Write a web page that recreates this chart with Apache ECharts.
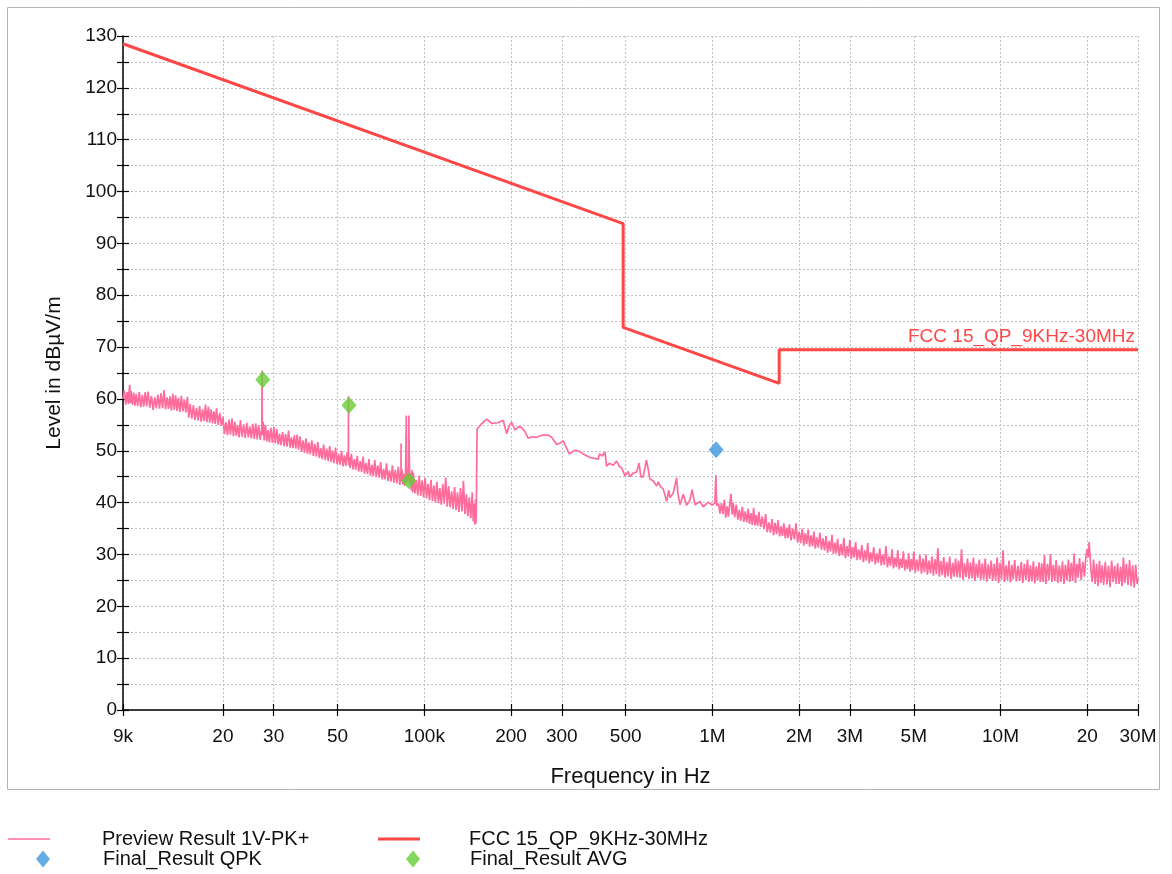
<!DOCTYPE html>
<html><head><meta charset="utf-8">
<script src="https://cdn.jsdelivr.net/npm/echarts@6/dist/echarts.min.js"></script>
<style>html,body{margin:0;padding:0;background:#fff}#c{width:1172px;height:874px}</style>
</head><body><div id="c"></div>
<script>
// ---- data ----
const xTickValues = [9000, 20000, 30000, 50000, 100000, 200000, 300000, 500000, 1e6, 2e6, 3e6, 5e6, 1e7, 2e7, 3e7];
const xTickLabels = ['9k', '20', '30', '50', '100k', '200', '300', '500', '1M', '2M', '3M', '5M', '10M', '20', '30M'];

// Preview Result 1V-PK+ : [kHz, dBµV/m], 9 kHz .. 150 kHz
const lowBandKHz = [
[9.0,60.0],[9.1,61.6],[9.2,58.9],[9.3,61.3],[9.4,59.0],[9.45,61.4],[9.5,62.7],[9.55,59.2],[9.6,61.5],[9.7,58.9],
[9.8,61.2],[9.9,58.7],[10.0,61.0],[10.12,58.6],[10.25,61.3],[10.37,58.4],[10.5,60.8],[10.62,58.5],[10.75,61.3],[10.87,58.6],
[11.0,61.4],[11.15,58.3],[11.3,60.6],[11.45,57.9],[11.6,60.3],[11.75,58.2],[11.9,60.8],[12.05,58.1],[12.2,61.1],[12.35,58.2],
[12.5,61.7],[12.65,58.0],[12.8,60.3],[12.95,58.1],[13.1,60.5],[13.25,57.8],[13.4,61.0],[13.55,57.9],[13.7,60.7],[13.85,57.7],
[14.0,60.2],[14.17,57.5],[14.35,60.6],[14.52,57.6],[14.7,59.8],[14.87,57.4],[15.05,60.4],[15.22,56.4],[15.4,59.0],[15.6,56.2],
[15.8,58.8],[16.0,55.9],[16.2,58.3],[16.4,55.8],[16.6,58.6],[16.8,55.6],[17.0,58.0],[17.2,55.7],[17.4,58.9],[17.6,55.5],
[17.8,58.5],[18.0,55.4],[18.2,58.0],[18.4,55.3],[18.6,57.6],[18.8,55.2],[19.0,58.2],[19.25,55.0],[19.5,57.3],[19.75,54.8],
[20.0,56.6],[20.25,53.2],[20.5,55.5],[20.75,53.0],[21.0,56.0],[21.25,53.1],[21.5,56.2],[21.75,52.8],[22.0,55.6],[22.25,52.9],
[22.5,55.0],[22.75,52.6],[23.0,55.9],[23.3,52.7],[23.6,55.1],[23.9,52.5],[24.2,55.4],[24.5,52.6],[24.8,54.7],[25.1,52.4],
[25.4,55.2],[25.7,52.3],[26.0,55.3],[26.3,52.2],[26.6,54.9],[26.95,52.1],[27.3,54.6],[27.35,65.5],[27.4,53.0],[27.6,55.6],
[27.8,52.0],[28.1,55.0],[28.4,51.8],[28.7,54.0],[29.0,51.6],[29.35,54.4],[29.7,51.5],[30.05,54.6],[30.4,51.4],[30.75,54.2],
[31.1,51.2],[31.45,53.3],[31.8,51.1],[32.2,53.6],[32.6,50.9],[33.0,53.2],[33.4,50.8],[33.8,53.9],[34.2,50.6],[34.6,52.6],
[35.0,50.5],[35.4,53.0],[35.8,50.4],[36.2,53.1],[36.6,50.2],[37.05,52.8],[37.5,49.8],[37.95,52.0],[38.4,49.6],[38.85,52.4],
[39.3,49.4],[39.75,51.6],[40.2,49.3],[40.7,52.0],[41.2,49.0],[41.7,51.3],[42.2,48.9],[42.7,51.7],[43.2,48.6],[43.7,50.5],
[44.2,48.4],[44.75,51.2],[45.3,48.2],[45.85,50.4],[46.4,48.0],[46.95,50.9],[47.5,47.8],[48.05,50.1],[48.6,47.6],[49.2,50.6],
[49.8,47.4],[50.4,49.4],[51.0,47.3],[51.6,50.0],[52.2,47.0],[52.8,49.1],[53.4,47.1],[53.95,49.7],[54.5,48.0],[54.55,60.5],
[54.6,47.2],[54.9,48.8],[55.2,46.7],[55.85,49.4],[56.5,46.4],[57.15,48.4],[57.8,46.3],[58.5,49.0],[59.2,46.0],[59.9,48.0],
[60.6,45.9],[61.3,48.9],[62.0,45.6],[62.75,47.6],[63.5,45.5],[64.25,48.4],[65.0,45.2],[65.75,47.3],[66.5,45.1],[67.3,48.2],
[68.1,44.9],[68.9,47.2],[69.7,44.8],[70.55,47.8],[71.4,44.5],[72.25,46.5],[73.1,44.5],[73.95,47.6],[74.8,44.2],[75.7,46.2],
[76.6,44.1],[77.5,47.2],[78.4,43.8],[79.35,46.3],[80.3,43.7],[81.25,46.9],[82.2,43.4],[83.0,45.9],[83.05,51.4],[83.1,44.1],
[83.7,46.4],[84.3,43.5],[84.9,45.6],[85.6,43.2],[86.1,45.2],[86.5,45.0],[86.6,56.8],[86.8,46.5],[87.5,43.9],[88.2,47.0],
[88.4,56.8],[88.6,50.0],[89.1,43.6],[89.6,45.7],[90.1,42.4],[90.6,46.3],[91.1,42.0],[91.6,45.8],[92.7,41.8],[93.8,44.4],
[94.9,41.4],[96.0,45.2],[97.15,41.3],[98.3,44.3],[99.45,41.0],[100.6,44.8],[101.8,40.8],[103.0,43.6],[104.25,40.4],[105.5,44.4],
[106.75,40.3],[108.0,43.3],[109.3,40.0],[110.6,44.0],[111.9,39.9],[113.2,42.8],[114.55,39.6],[115.9,43.6],[117.3,39.8],[118.7,44.9],
[120.1,39.2],[121.5,43.2],[122.95,39.1],[124.4,42.2],[125.9,38.8],[127.4,43.0],[128.9,38.6],[130.4,42.0],[131.95,38.2],[133.5,42.8],
[135.1,38.3],[136.7,44.2],[138.35,37.8],[140.0,41.6],[141.65,37.4],[143.3,41.0],[145.0,37.0],[146.7,42.0],[147.85,36.4],[149.0,39.8],
[149.75,35.8],[150.5,40.6],[151.0,36.0],[151.5,38.0]
];
// 150 kHz .. 1.05 MHz
const midBandKHz = [
[152.5,54.2],[158,55.2],[164.6,56.1],[171.3,55.3],[180,55.4],[187.9,55.9],[193.1,53.3],[197,54.8],[201,55.5],[206.3,54.0],
[212,54.6],[217.7,54.5],[224,53.6],[229.6,52.4],[235.9,52.7],[245.5,52.6],[255.5,53.0],[269.3,53.0],[276.7,52.6],[288,51.2],
[296,51.5],[303.6,51.9],[318.5,49.4],[333.4,50.1],[345,49.9],[356.2,49.4],[375.8,48.7],[401.6,48.4],[405,49.4],[415,49.0],
[423.6,49.8],[429.4,47.0],[438.5,47.6],[452.7,47.2],[465,48.0],[475,47.0],[484,46.7],[497,45.2],[510,46.0],[517,45.0],
[531,45.7],[546,45.9],[556,47.6],[565,44.9],[575,45.0],[590,48.2],[599,46.3],[607,44.5],[623,44.2],[640,43.2],
[649,44.0],[660,43.1],[675,42.6],[694,40.2],[705,42.4],[712,41.0],[731,41.8],[751,44.8],[760,41.5],[772,39.6],
[792,41.6],[814,39.5],[836,40.5],[850,42.5],[870,39.6],[905,40.2],[929,39.2],[967,40.1],[1000,39.5],[1020,40.0],
[1028,45.3],[1035,39.4]
];
// 1.05 MHz .. 30 MHz
const highBandMHz = [
[1.05,39.8],[1.062,37.9],[1.075,39.9],[1.087,37.8],[1.1,40.6],[1.112,37.1],[1.125,39.3],[1.137,37.3],[1.15,40.0],[1.16,41.7],
[1.17,37.7],[1.18,40.0],[1.195,37.2],[1.21,39.6],[1.225,36.7],[1.24,38.6],[1.255,36.5],[1.27,39.2],[1.285,36.3],[1.3,38.3],
[1.315,36.2],[1.33,38.8],[1.345,35.9],[1.36,38.0],[1.375,35.7],[1.39,39.0],[1.405,35.6],[1.42,37.6],[1.435,35.5],[1.45,38.2],
[1.47,35.3],[1.49,37.3],[1.51,34.9],[1.53,37.8],[1.55,34.3],[1.57,36.2],[1.59,34.2],[1.61,36.8],[1.63,33.7],[1.65,36.1],
[1.67,33.9],[1.69,36.6],[1.71,33.5],[1.73,35.4],[1.75,33.6],[1.77,36.0],[1.79,33.1],[1.81,35.2],[1.83,33.2],[1.85,35.8],
[1.875,32.7],[1.9,35.0],[1.925,32.9],[1.95,36.0],[1.975,32.3],[2.0,34.4],[2.025,32.2],[2.05,35.0],[2.075,31.7],[2.1,34.1],
[2.125,32.0],[2.15,34.8],[2.175,31.5],[2.2,33.7],[2.225,31.6],[2.25,34.4],[2.275,31.1],[2.3,33.3],[2.33,31.3],[2.36,34.2],
[2.39,30.9],[2.42,33.1],[2.45,30.8],[2.48,33.6],[2.51,30.3],[2.54,32.6],[2.57,30.6],[2.6,33.8],[2.63,30.1],[2.66,32.3],
[2.69,30.2],[2.72,33.0],[2.755,29.7],[2.79,32.0],[2.825,29.8],[2.86,33.2],[2.895,29.3],[2.93,31.6],[2.965,29.6],[3.0,32.8],
[3.035,29.1],[3.07,31.4],[3.105,29.4],[3.14,32.4],[3.18,28.9],[3.22,31.0],[3.26,29.0],[3.3,31.8],[3.34,28.5],[3.38,30.8],
[3.42,28.8],[3.46,32.2],[3.5,28.3],[3.54,30.4],[3.585,28.6],[3.63,31.4],[3.675,28.1],[3.72,30.2],[3.765,28.4],[3.81,31.2],
[3.855,27.9],[3.9,30.0],[3.95,28.0],[4.0,31.6],[4.05,27.5],[4.1,29.6],[4.15,27.8],[4.2,31.0],[4.25,27.3],[4.3,29.4],
[4.35,27.6],[4.4,30.8],[4.45,27.1],[4.5,29.2],[4.55,27.4],[4.6,30.6],[4.65,26.9],[4.7,29.0],[4.75,27.2],[4.8,30.2],
[4.85,26.7],[4.9,29.1],[4.95,27.0],[5.0,30.6],[5.06,26.5],[5.12,29.0],[5.185,26.8],[5.25,29.9],[5.315,26.3],[5.38,29.2],
[5.445,26.6],[5.51,30.0],[5.575,26.1],[5.64,28.8],[5.71,26.4],[5.78,29.6],[5.85,25.9],[5.92,29.1],[5.99,26.2],[6.06,31.2],
[6.13,25.7],[6.2,28.7],[6.275,26.0],[6.35,29.5],[6.425,25.5],[6.5,28.6],[6.58,25.8],[6.66,29.6],[6.74,25.3],[6.82,28.4],
[6.9,25.7],[6.98,29.2],[7.065,25.6],[7.15,28.8],[7.235,25.5],[7.32,31.0],[7.41,25.1],[7.5,28.3],[7.59,25.6],[7.68,29.2],
[7.77,25.3],[7.86,28.5],[7.955,25.4],[8.05,29.4],[8.145,24.9],[8.24,28.2],[8.34,25.5],[8.44,29.0],[8.54,25.1],[8.64,28.3],
[8.745,25.2],[8.85,29.2],[8.955,24.7],[9.06,28.1],[9.17,25.3],[9.28,28.8],[9.39,24.9],[9.5,28.2],[9.615,25.0],[9.73,29.4],
[9.845,24.5],[9.96,28.4],[10.08,25.1],[10.2,30.8],[10.32,24.7],[10.45,27.9],[10.57,25.0],[10.7,28.8],[10.82,24.6],[10.95,28.0],
[11.07,25.2],[11.2,28.9],[11.35,24.8],[11.5,27.8],[11.65,24.9],[11.8,28.6],[11.95,24.5],[12.1,28.2],[12.25,25.1],[12.4,29.0],
[12.55,24.7],[12.7,27.9],[12.85,24.8],[13.0,28.7],[13.15,24.4],[13.3,27.7],[13.45,25.0],[13.6,28.5],[13.75,24.7],[13.9,28.3],
[14.05,24.7],[14.2,29.9],[14.37,24.3],[14.55,28.2],[14.72,25.1],[14.9,30.1],[15.07,24.7],[15.25,28.0],[15.42,24.9],[15.6,28.9],
[15.8,24.5],[16.0,27.9],[16.2,24.7],[16.4,28.7],[16.6,24.3],[16.8,28.0],[17.0,25.0],[17.2,29.0],[17.4,24.7],[17.6,28.4],
[17.8,24.9],[18.0,30.2],[18.2,24.5],[18.4,28.2],[18.6,25.5],[18.8,29.3],[19.05,25.1],[19.3,28.6],[19.55,25.7],[19.8,29.8],
[20.0,31.0],[20.15,29.4],[20.3,32.4],[20.6,27.0],[20.8,24.7],[21.05,29.0],[21.3,24.3],[21.55,28.2],[21.8,23.9],[22.05,28.8],
[22.3,24.5],[22.55,27.9],[22.8,24.1],[23.1,28.6],[23.4,24.2],[23.7,27.8],[24.0,23.7],[24.3,28.8],[24.6,24.7],[24.9,27.8],
[25.2,24.3],[25.5,28.3],[25.8,24.3],[26.1,27.6],[26.4,23.9],[26.7,29.4],[27.0,24.5],[27.35,28.2],[27.7,24.1],[28.05,28.9],
[28.4,23.9],[28.75,27.9],[29.1,23.6],[29.45,28.0],[29.8,24.3],[30.0,25.5]
];

// FCC 15_QP_9KHz-30MHz limit (break points)
const limitFreqHz = [9000, 490000, 490000, 1705000, 1705000, 30000000];
const limitLevel = [128.5, 93.8, 73.8, 63.0, 69.5, 69.5];

// Final results
const qpkFreqHz = [1030000];
const qpkLevel = [50.2];
const avgFreqHz = [27500, 54800, 88400];
const avgLevel = [63.7, 58.8, 44.2];

const names = ['Preview Result 1V-PK+', 'FCC 15_QP_9KHz-30MHz', 'Final_Result QPK', 'Final_Result AVG'];

// ---- build ----
const previewData = []
  .concat(lowBandKHz.map(p => [p[0] * 1e3, p[1]]))
  .concat(midBandKHz.map(p => [p[0] * 1e3, p[1]]))
  .concat(highBandMHz.map(p => [p[0] * 1e6, p[1]]));
const limitData = limitFreqHz.map((f, i) => [f, limitLevel[i]]);
const qpkData = qpkFreqHz.map((f, i) => [f, qpkLevel[i]]);
const avgData = avgFreqHz.map((f, i) => [f, avgLevel[i]]);

function xLabel(v) {
  let best = 0, bd = Infinity;
  xTickValues.forEach((t, i) => { const d = Math.abs(Math.log(v / t)); if (d < bd) { bd = d; best = i; } });
  return xTickLabels[best];
}

const FONT = "'Liberation Sans', Arial, Helvetica, sans-serif";
const TXT = '#111';
const PINK = '#ff6b9b', RED = '#ff4747', BLUE = '#3d97dc', GREEN = '#66cc33';
const gridLine = { color: '#c2c2c2', type: [2, 2], width: 1 };
const legendText = pad => ({ fontSize: 20, color: TXT, fontFamily: FONT, padding: [0, 0, 0, pad] });

const chart = echarts.init(document.getElementById('c'), null, { renderer: 'canvas' });
chart.setOption({
  animation: false,
  backgroundColor: '#fff',
  textStyle: { fontFamily: FONT },
  graphic: [{
    type: 'rect', silent: true, z: -10,
    shape: { x: 7.5, y: 7.5, width: 1152, height: 782 },
    style: { fill: null, stroke: '#b4b4b4', lineWidth: 1 }
  }],
  grid: { left: 123, right: 34, top: 36, bottom: 164, containLabel: false },
  xAxis: [{
    type: 'log', logBase: 10, min: 9000, max: 3e7, position: 'bottom',
    axisLine: { show: true, onZero: false, lineStyle: { color: '#000', width: 1.5 } },
    axisTick: { show: true, customValues: xTickValues, length: 6, lineStyle: { color: '#000', width: 1.2 } },
    axisLabel: { customValues: xTickValues, formatter: xLabel, fontSize: 19, color: TXT, fontFamily: FONT, margin: 17 },
    splitLine: { show: true, lineStyle: gridLine },
    minorTick: { show: false }, minorSplitLine: { show: false },
    name: 'Frequency in Hz', nameLocation: 'middle', nameGap: 56,
    nameTextStyle: { fontSize: 22, color: TXT, fontFamily: FONT }
  }, {
    type: 'log', logBase: 10, min: 9000, max: 3e7, position: 'bottom',
    axisLine: { show: false },
    axisTick: { show: true, inside: true, customValues: xTickValues, length: 6, lineStyle: { color: '#000', width: 1.2 } },
    axisLabel: { show: false }, splitLine: { show: false }
  }],
  yAxis: [{
    type: 'value', min: 0, max: 130, interval: 10, position: 'left',
    axisLine: { show: true, onZero: false, lineStyle: { color: '#000', width: 1.5 } },
    axisTick: { show: true, length: 6, lineStyle: { color: '#000', width: 1.2 } },
    minorTick: { show: true, splitNumber: 2, length: 6, lineStyle: { color: '#000', width: 1.2 } },
    axisLabel: { fontSize: 19, color: TXT, fontFamily: FONT, margin: 6 },
    splitLine: { show: true, lineStyle: gridLine },
    minorSplitLine: { show: true, lineStyle: gridLine },
    name: 'Level in dBµV/m', nameLocation: 'middle', nameGap: 58, nameRotate: 90,
    nameTextStyle: { fontSize: 21, color: TXT, fontFamily: FONT }
  }, {
    type: 'value', min: 0, max: 130, interval: 10, position: 'left', offset: 0,
    axisLine: { show: false },
    axisTick: { show: true, inside: true, length: 6, lineStyle: { color: '#000', width: 1.2 } },
    minorTick: { show: true, splitNumber: 2, length: 6, lineStyle: { color: '#000', width: 1.2 } },
    axisLabel: { show: false }, splitLine: { show: false }, minorSplitLine: { show: false }
  }],
  legend: [
    { data: [{ name: names[0], icon: 'rect', itemStyle: { color: PINK } }], left: 8, top: 829, padding: 0,
      itemWidth: 42, itemHeight: 1.5, selectedMode: false, textStyle: legendText(47) },
    { data: [{ name: names[1], icon: 'rect', itemStyle: { color: RED } }], left: 378, top: 829, padding: 0,
      itemWidth: 42, itemHeight: 3, selectedMode: false, textStyle: legendText(44) },
    { data: [names[2]], left: 36, top: 849, padding: 0,
      itemWidth: 14, itemHeight: 17, selectedMode: false, textStyle: legendText(48) },
    { data: [names[3]], left: 406, top: 849, padding: 0,
      itemWidth: 14, itemHeight: 17, selectedMode: false, textStyle: legendText(45) }
  ],
  series: [{
    name: names[0], type: 'line', xAxisIndex: 0, yAxisIndex: 0, data: previewData,
    symbol: 'none', showSymbol: false, z: 2,
    lineStyle: { color: PINK, width: 1.7 }, itemStyle: { color: PINK }
  }, {
    name: names[1], type: 'line', xAxisIndex: 0, yAxisIndex: 0, data: limitData,
    symbol: 'none', showSymbol: false, z: 3,
    lineStyle: { color: RED, width: 3 }, itemStyle: { color: RED },
    markPoint: {
      symbol: 'rect', symbolSize: 1, silent: true,
      itemStyle: { color: 'rgba(0,0,0,0)' },
      label: { show: true, position: 'top', align: 'right', distance: 3, offset: [-3, 0],
        formatter: names[1], color: RED, fontSize: 19, fontFamily: FONT },
      data: [{ coord: [limitFreqHz[5], limitLevel[5]] }]
    }
  }, {
    name: names[2], type: 'scatter', xAxisIndex: 0, yAxisIndex: 0, data: qpkData,
    symbol: 'diamond', symbolSize: [15, 17], z: 5, itemStyle: { color: BLUE }
  }, {
    name: names[3], type: 'scatter', xAxisIndex: 0, yAxisIndex: 0, data: avgData,
    symbol: 'diamond', symbolSize: [15, 17], z: 5, itemStyle: { color: GREEN }
  }]
});
</script></body></html>
